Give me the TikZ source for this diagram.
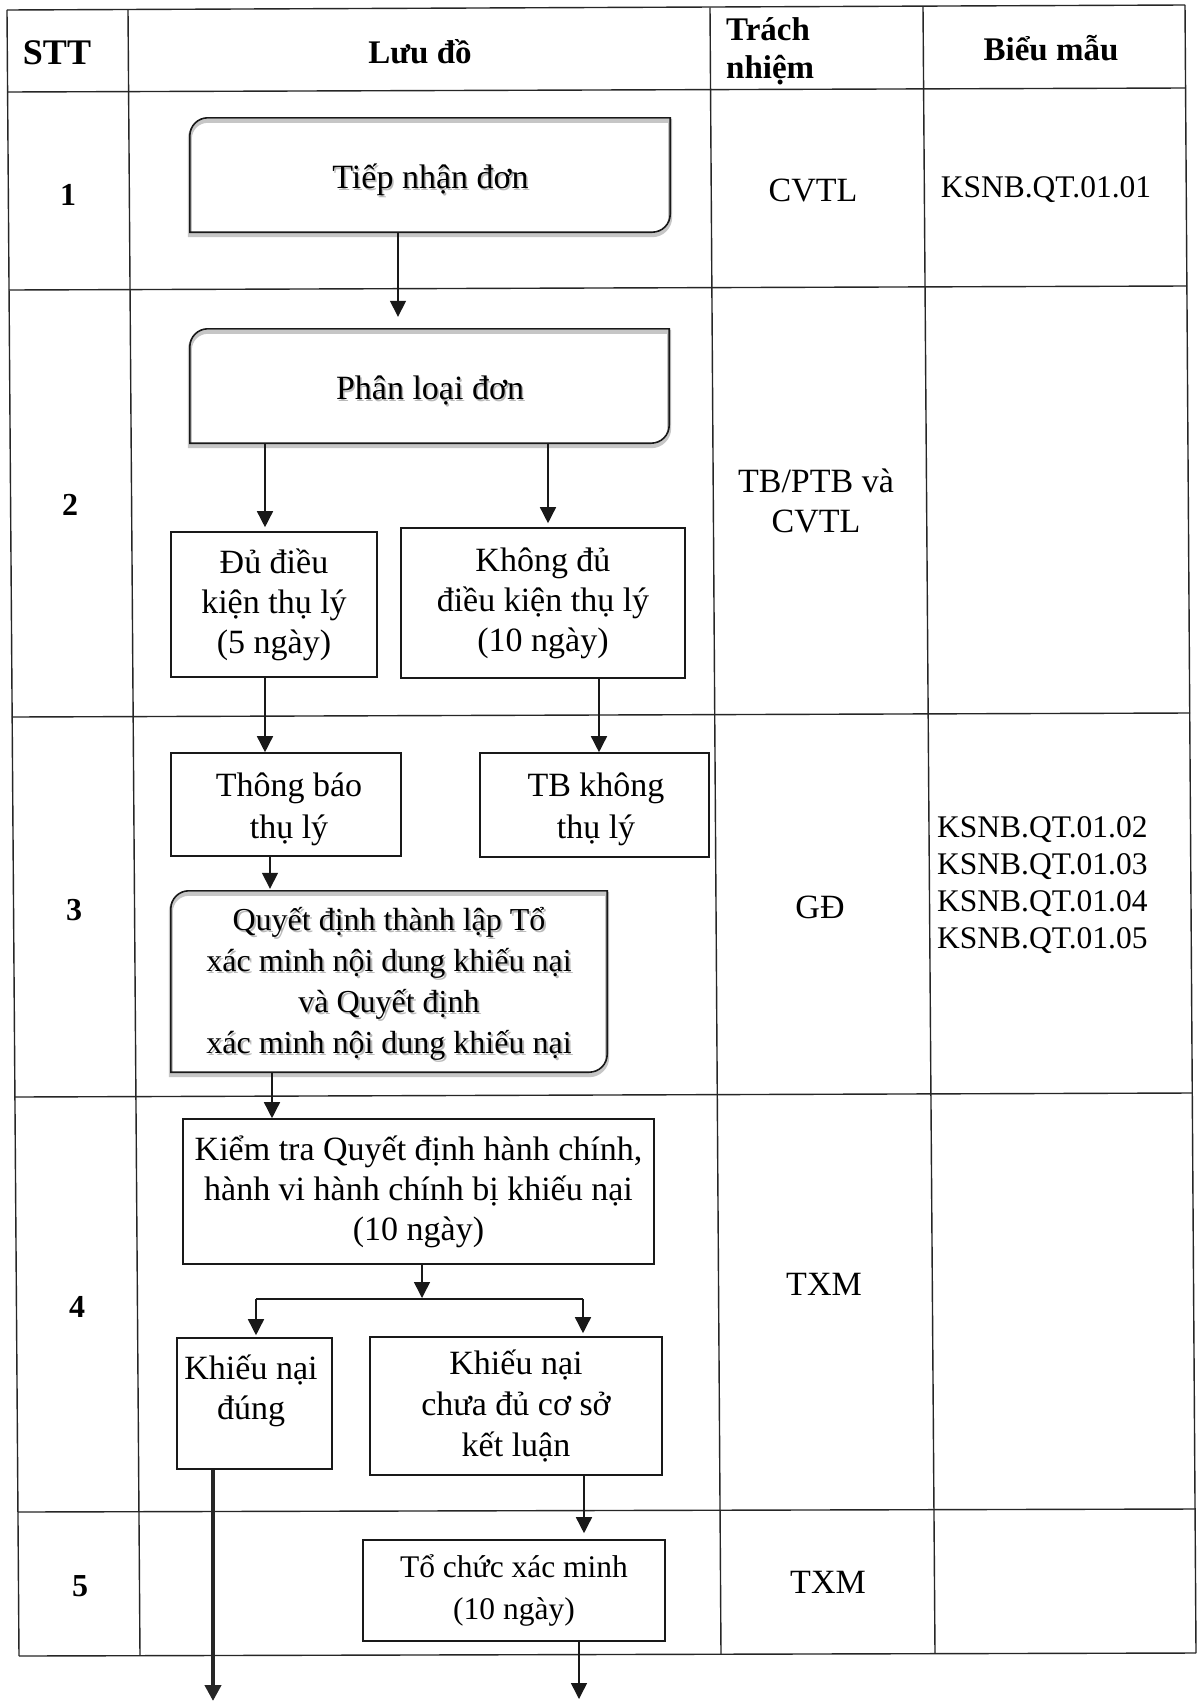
\documentclass[tikz,border=0pt]{standalone}
\usepackage{fontspec}
\setmainfont{Liberation Serif}
\usetikzlibrary{arrows.meta}
\newcommand\bodyfont{\fontsize{34}{40}\selectfont}
\newcommand\rdiagbox[1]{%
  \draw[gray!45, line width=4pt, transform canvas={yshift=-3pt}]
    (#1.south west) -- ([yshift=-18pt]#1.north west) arc[start angle=180,end angle=270,radius=18]
    -- (#1.north east) -- ([yshift=18pt]#1.south east) arc[start angle=0,end angle=90,radius=18] -- cycle;
  \draw[line width=1.6pt, black!90]
    (#1.south west) -- ([yshift=-18pt]#1.north west) arc[start angle=180,end angle=270,radius=18]
    -- (#1.north east) -- ([yshift=18pt]#1.south east) arc[start angle=0,end angle=90,radius=18] -- cycle;}
\begin{document}
\begin{tikzpicture}[x=1pt,y=-1pt,
  tline/.style={line width=1.4pt, draw=black!85},
  box/.style={draw=black!90, line width=1.6pt, inner sep=0pt, align=center, font=\bodyfont},
  rbox/.style={inner sep=0pt},
  txt/.style={inner sep=0pt, align=center, font=\bodyfont},
  shadowtxt/.style={txt, text=gray!55},
  head/.style={inner sep=0pt, align=center, font=\fontsize{33}{38}\selectfont\bfseries},
  num/.style={inner sep=0pt, font=\fontsize{32}{38}\selectfont\bfseries},
  arr/.style={line width=1.5pt, draw=black!90, -{Triangle[length=16pt,width=16pt]}},
  arrthick/.style={line width=4pt, draw=black!85, -{Triangle[length=16pt,width=16pt]}},
  conn/.style={line width=1.5pt, draw=black!90}
]
\useasboundingbox (0,0) rectangle (1197,1702);
\fill[white] (0,0) rectangle (1197,1702);

% ---------- table grid ----------
\draw[tline] (7,10) -- (1185,5);
\draw[tline] (7.6,92) -- (1185.5,88);
\draw[tline] (9,290) -- (1187,286);
\draw[tline] (12,717) -- (1190,713);
\draw[tline] (15,1097) -- (1192,1093);
\draw[tline] (18,1512) -- (1195,1509);
\draw[tline] (19,1656) -- (1196,1653);
\draw[tline] (7,10) -- (19,1656);
\draw[tline] (128,9.5) -- (140,1655.6);
\draw[tline] (710,7.5) -- (721,1654);
\draw[tline] (923,6.7) -- (935,1653.5);
\draw[tline] (1185,5) -- (1196,1653);

% ---------- header ----------
\node[head, font=\fontsize{36}{40}\selectfont\bfseries] (hstt) at (57,53) {STT};
\node[head] (hluu) at (420,52) {Lưu đồ};
\node[head, anchor=west, align=left] (htn) at (726,51) {Trách\\nhiệm};
\node[head] (hbm) at (1051,48) {Biểu mẫu};

% ---------- column texts ----------
\node[num] (n1) at (68,195) {1};
\node[num] (n2) at (70,505) {2};
\node[num] (n3) at (74,910) {3};
\node[num] (n4) at (77,1307) {4};
\node[num] (n5) at (80,1586) {5};

\node[txt] (r1) at (813,190) {CVTL};
\node[txt, font=\fontsize{31.5}{36}\selectfont] (b1) at (1046,190) {KSNB.QT.01.01};
\node[txt] (r2) at (816,501) {TB/PTB và\\CVTL};
\node[txt] (r3) at (820,907) {GĐ};
\node[txt, anchor=west, align=left, font=\fontsize{31.5}{36.8}\selectfont] (b3) at (937,885)
  {KSNB.QT.01.02\\KSNB.QT.01.03\\KSNB.QT.01.04\\KSNB.QT.01.05};
\node[txt] (r4) at (824,1284) {TXM};
\node[txt] (r5) at (828,1582) {TXM};

% ---------- flow nodes ----------
\node[rbox, minimum width=480pt, minimum height=114pt] (tn) at (430,175) {};
\rdiagbox{tn}
\node[shadowtxt] (tnsh) at (432,181.5) {Tiếp nhận đơn};
\node[txt] (tnt) at (430.5,180) {Tiếp nhận đơn};

\node[rbox, minimum width=479pt, minimum height=114pt] (pl) at (429.5,386) {};
\rdiagbox{pl}
\node[shadowtxt] (plsh) at (431.5,392) {Phân loại đơn};
\node[txt] (plt) at (430,390.5) {Phân loại đơn};

\node[box, minimum width=206pt, minimum height=145pt] (dk) at (274,604.5) {Đủ điều\\kiện thụ lý\\(5 ngày)};
\node[box, minimum width=284pt, minimum height=150pt] (kdk) at (543,603) {Không đủ\\điều kiện thụ lý\\(10 ngày)};
\node[box, minimum width=230pt, minimum height=103pt] (tbtl) at (286,804.5) {};
\node[txt, font=\fontsize{34}{42}\selectfont] (tbtlt) at (289,809) {Thông báo\\thụ lý};
\node[box, minimum width=229pt, minimum height=104pt] (tbk) at (594.5,805) {};
\node[txt, font=\fontsize{34}{42}\selectfont] (tbkt) at (596,809) {TB không\\thụ lý};

\node[rbox, minimum width=436pt, minimum height=181pt] (qd) at (389,981.5) {};
\rdiagbox{qd}
\node[shadowtxt, font=\fontsize{32}{41}\selectfont] (qdsh) at (391,985.5)
  {Quyết định thành lập Tổ\\xác minh nội dung khiếu nại\\và Quyết định\\xác minh nội dung khiếu nại};
\node[txt, font=\fontsize{32}{41}\selectfont] (qdt) at (389,984)
  {Quyết định thành lập Tổ\\xác minh nội dung khiếu nại\\và Quyết định\\xác minh nội dung khiếu nại};

\node[box, minimum width=471pt, minimum height=145pt] (kt) at (418.5,1191.5)
  {Kiểm tra Quyết định hành chính,\\hành vi hành chính bị khiếu nại\\(10 ngày)};
\node[box, minimum width=155pt, minimum height=131pt] (kdung) at (254.5,1403.5) {};
\node[txt] (kdungt) at (251,1391) {Khiếu nại\\đúng};
\node[box, minimum width=292pt, minimum height=138pt, font=\fontsize{34}{40.7}\selectfont] (kcd) at (516,1406) {Khiếu nại\\chưa đủ cơ sở\\kết luận};
\node[box, minimum width=302pt, minimum height=101pt, font=\fontsize{31.5}{42}\selectfont] (tcx) at (514,1590.5) {Tổ chức xác minh\\(10 ngày)};

% ---------- connector helper coordinates ----------
\coordinate (x398) at (398,0);
\coordinate (x265) at (265,0);
\coordinate (x548) at (548,0);
\coordinate (x599) at (599,0);
\coordinate (x270) at (270,0);
\coordinate (x272) at (272,0);
\coordinate (x213) at (213,0);
\coordinate (x584) at (584,0);
\coordinate (x579) at (579,0);
\coordinate (sp) at (422,1299);
\coordinate (spL) at (256,1299);
\coordinate (spR) at (583,1299);
\coordinate (endL) at (213,1701);
\coordinate (endR) at (579,1699);

% ---------- connectors ----------
\draw[arr, shorten >=12pt] (tn.south -| x398) -- (pl.north -| x398);
\draw[arr, shorten >=4pt] (pl.south -| x265) -- (dk.north -| x265);
\draw[arr, shorten >=4pt] (pl.south -| x548) -- (kdk.north -| x548);
\draw[arr] (dk.south -| x265) -- (tbtl.north -| x265);
\draw[arr] (kdk.south -| x599) -- (tbk.north -| x599);
\draw[arr, shorten >=2pt] (tbtl.south -| x270) -- (qd.north -| x270);
\draw[arr] (qd.south -| x272) -- (kt.north -| x272);
\draw[arr, shorten >=1pt] (kt.south -| sp) -- (sp);
\draw[conn] (spL) -- (spR);
\draw[arr, shorten >=2pt] (spL) -- (kdung.north -| spL);
\draw[arr, shorten >=3pt] (spR) -- (kcd.north -| spR);
\draw[arrthick] (kdung.south -| x213) -- (endL);
\draw[arr, shorten >=6pt] (kcd.south -| x584) -- (tcx.north -| x584);
\draw[arr] (tcx.south -| x579) -- (endR);
\end{tikzpicture}
\end{document}
